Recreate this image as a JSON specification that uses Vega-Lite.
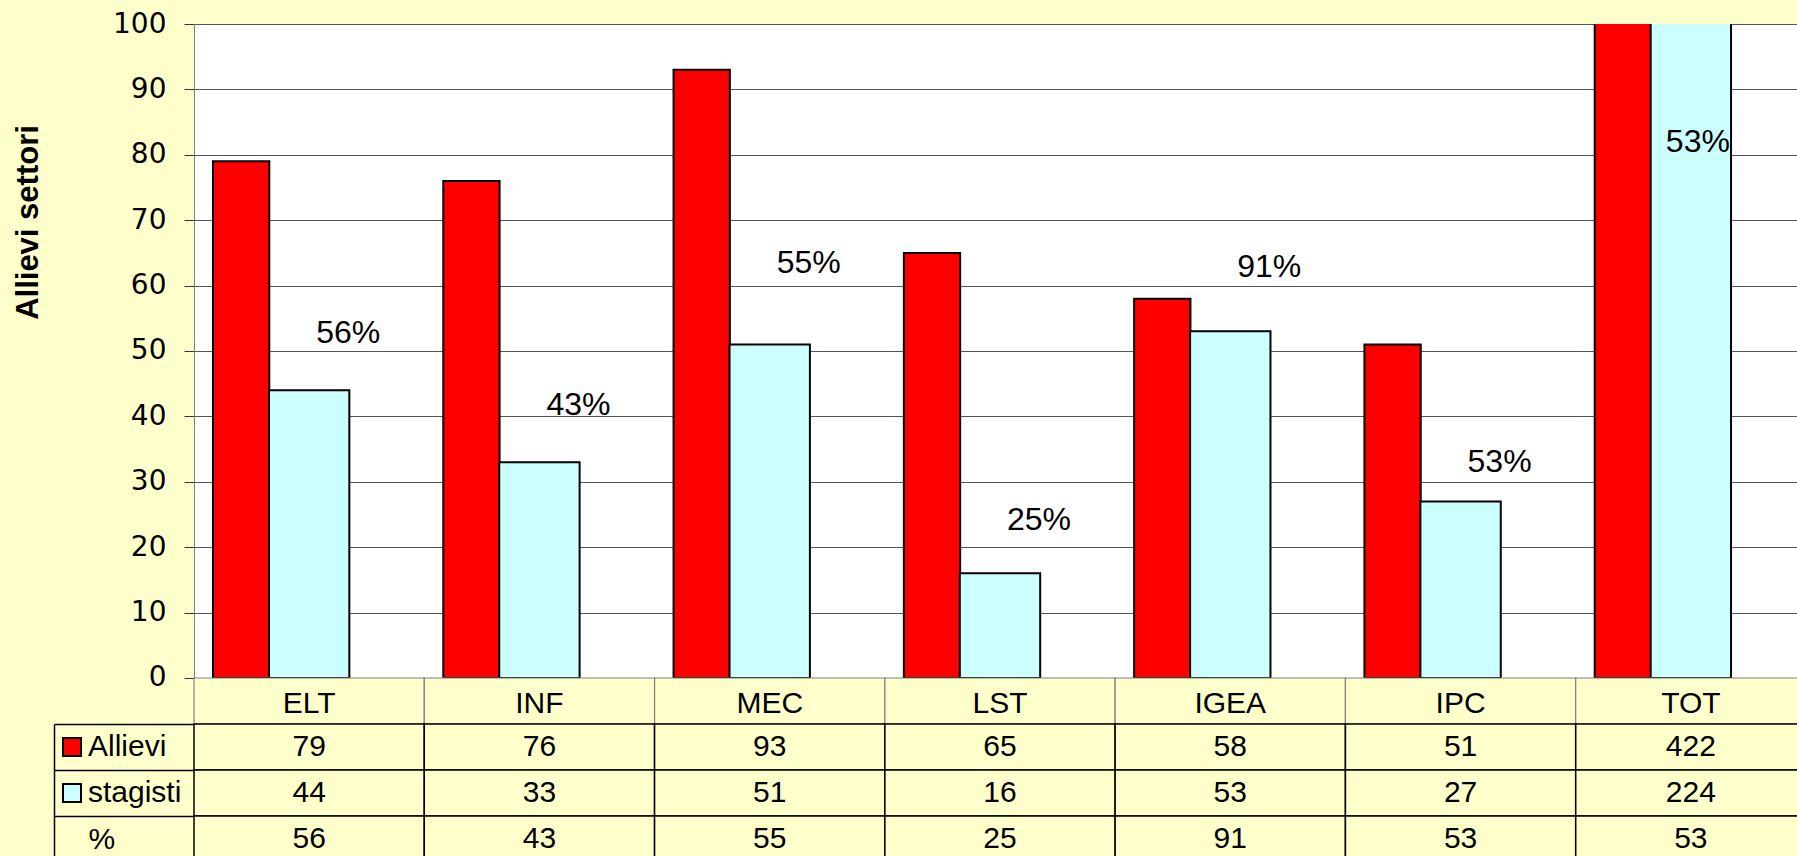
{
  "$schema": "https://vega.github.io/schema/vega-lite/v6.json",
  "width": 1612,
  "height": 832,
  "autosize": {"type": "none"},
  "padding": {"left": 194, "top": 24, "right": -9, "bottom": 0},
  "background": "#FFFFCC",
  "config": {
    "font": "Liberation Sans",
    "view": {"fill": "white", "stroke": null},
    "axis": {"labelColor": "black", "titleColor": "black"}
  },
  "datasets": {
    "righe": [
      {"cat": "ELT", "Allievi": 79, "stagisti": 44, "pct": 56, "etichettaY": 52.75},
      {"cat": "INF", "Allievi": 76, "stagisti": 33, "pct": 43, "etichettaY": 41.8},
      {"cat": "MEC", "Allievi": 93, "stagisti": 51, "pct": 55, "etichettaY": 63.5},
      {"cat": "LST", "Allievi": 65, "stagisti": 16, "pct": 25, "etichettaY": 24.1},
      {"cat": "IGEA", "Allievi": 58, "stagisti": 53, "pct": 91, "etichettaY": 62.8},
      {"cat": "IPC", "Allievi": 51, "stagisti": 27, "pct": 53, "etichettaY": 33.0},
      {"cat": "TOT", "Allievi": 422, "stagisti": 224, "pct": 53, "etichettaY": 82.0}
    ]
  },
  "data": {"name": "righe"},
  "resolve": {"scale": {"y": "independent"}},
  "layer": [
    {
      "mark": {"type": "bar", "clip": true, "width": {"band": 0.2445}, "xOffset": -68, "stroke": "black", "strokeWidth": 2},
      "encoding": {
        "x": {"field": "cat", "type": "nominal", "sort": null, "title": null,
          "scale": {"type": "band", "domain": ["ELT", "INF", "MEC", "LST", "IGEA", "IPC", "TOT"], "paddingInner": 0, "paddingOuter": 0},
          "axis": {"orient": "bottom", "offset": -178, "ticks": false, "tickSize": 0, "domain": false, "grid": false, "labelFontSize": 30, "labelPadding": 10, "labelBaseline": "top", "labelAngle": 0, "labelColor": "black", "zindex": 2, "title": null}},
        "y": {"field": "Allievi", "type": "quantitative",
          "scale": {"domain": [-27.22, 100], "nice": false, "zero": false},
          "axis": {"orient": "left", "values": [0, 10, 20, 30, 40, 50, 60, 70, 80, 90, 100], "grid": true, "gridColor": "#555555", "gridWidth": 1, "tickSize": 10, "tickColor": "#333333", "domainColor": "#808080", "labelFont": "DejaVu Sans", "labelFontSize": 28, "labelPadding": 18, "title": "Allievi settori", "titleFontSize": 31, "titleFontWeight": "bold", "titleAngle": 270, "titleX": -157, "titleY": 198, "titleAlign": "center", "titleBaseline": "alphabetic"}},
        "y2": {"datum": 0},
        "color": {"datum": "Allievi", "type": "nominal",
          "scale": {"domain": ["Allievi", "stagisti"], "range": ["#FF0000", "#CCFFFF"]},
          "legend": {"orient": "none", "legendX": -137, "legendY": 708, "direction": "vertical", "title": null, "symbolType": "square", "symbolSize": 324, "symbolStrokeColor": "black", "symbolStrokeWidth": 2, "symbolOpacity": 1, "labelFontSize": 30, "labelOffset": 1, "rowPadding": 16, "padding": 0, "labelColor": "black"}}
      }
    },
    {
      "mark": {"type": "bar", "clip": true, "width": {"band": 0.349}, "xOffset": 0, "stroke": "black", "strokeWidth": 2},
      "encoding": {
        "x": {"field": "cat", "type": "nominal", "sort": null, "title": null, "scale": {"type": "band", "domain": ["ELT", "INF", "MEC", "LST", "IGEA", "IPC", "TOT"], "paddingInner": 0, "paddingOuter": 0}},
        "y": {"field": "stagisti", "type": "quantitative", "scale": {"domain": [-27.22, 100], "nice": false, "zero": false}, "axis": null},
        "y2": {"datum": 0},
        "color": {"datum": "stagisti", "type": "nominal"}
      }
    },
    {
      "transform": [{"filter": "datum.cat != 'TOT'"}, {"calculate": "datum.pct + '%'", "as": "etichetta"}],
      "mark": {"type": "text", "fontSize": 32, "xOffset": 39, "baseline": "middle", "align": "center", "color": "black"},
      "encoding": {
        "x": {"field": "cat", "type": "nominal", "sort": null, "title": null, "scale": {"type": "band", "domain": ["ELT", "INF", "MEC", "LST", "IGEA", "IPC", "TOT"], "paddingInner": 0, "paddingOuter": 0}},
        "y": {"field": "etichettaY", "type": "quantitative", "scale": {"domain": [-27.22, 100], "nice": false, "zero": false}, "axis": null},
        "text": {"field": "etichetta"}
      }
    },
    {
      "transform": [{"filter": "datum.cat == 'TOT'"}, {"calculate": "datum.pct + '%'", "as": "etichetta"}],
      "mark": {"type": "text", "fontSize": 32, "xOffset": 7, "baseline": "middle", "align": "center", "color": "black"},
      "encoding": {
        "x": {"field": "cat", "type": "nominal", "sort": null, "title": null, "scale": {"type": "band", "domain": ["ELT", "INF", "MEC", "LST", "IGEA", "IPC", "TOT"], "paddingInner": 0, "paddingOuter": 0}},
        "y": {"field": "etichettaY", "type": "quantitative", "scale": {"domain": [-27.22, 100], "nice": false, "zero": false}, "axis": null},
        "text": {"field": "etichetta"}
      }
    },
    {
      "mark": {"type": "rect", "fill": "#FFFFCC", "stroke": "#808080", "strokeWidth": 1.2},
      "encoding": {
        "x": {"field": "cat", "type": "nominal", "sort": null, "title": null, "scale": {"type": "band", "domain": ["ELT", "INF", "MEC", "LST", "IGEA", "IPC", "TOT"], "paddingInner": 0, "paddingOuter": 0}},
        "y": {"datum": "cat", "type": "nominal", "scale": {"type": "band", "domain": ["cat"], "range": [654, 700], "paddingInner": 0, "paddingOuter": 0}, "axis": null}
      }
    },
    {
      "transform": [{"fold": ["Allievi", "stagisti", "pct"], "as": ["riga", "valore"]}],
      "mark": {"type": "rect", "fill": "#FFFFCC", "stroke": "black", "strokeWidth": 1.5},
      "encoding": {
        "x": {"field": "cat", "type": "nominal", "sort": null, "title": null, "scale": {"type": "band", "domain": ["ELT", "INF", "MEC", "LST", "IGEA", "IPC", "TOT"], "paddingInner": 0, "paddingOuter": 0}},
        "y": {"field": "riga", "type": "nominal", "scale": {"type": "band", "domain": ["Allievi", "stagisti", "pct"], "range": [700, 838], "paddingInner": 0, "paddingOuter": 0},
          "axis": {"orient": "left", "offset": 140, "labels": false, "ticks": false, "grid": false, "domain": true, "domainColor": "black", "domainWidth": 1.5, "title": null}}
      }
    },
    {
      "transform": [{"fold": ["Allievi", "stagisti", "pct"], "as": ["riga", "valore"]}],
      "mark": {"type": "text", "fontSize": 30, "baseline": "middle", "align": "center", "color": "black"},
      "encoding": {
        "x": {"field": "cat", "type": "nominal", "sort": null, "title": null, "scale": {"type": "band", "domain": ["ELT", "INF", "MEC", "LST", "IGEA", "IPC", "TOT"], "paddingInner": 0, "paddingOuter": 0}},
        "y": {"field": "riga", "type": "nominal", "scale": {"type": "band", "domain": ["Allievi", "stagisti", "pct"], "range": [700, 838], "paddingInner": 0, "paddingOuter": 0},
          "axis": {"orient": "left", "offset": 0, "domain": false, "ticks": true, "tickBand": "extent", "tickSize": 140, "tickColor": "black", "tickWidth": 1.5, "labels": true, "labelExpr": "datum.value === 'pct' ? '%' : ''", "labelAlign": "left", "labelPadding": -34, "labelFontSize": 30, "labelBaseline": "middle", "grid": false, "title": null}},
        "text": {"field": "valore", "type": "quantitative"}
      }
    }
  ]
}
